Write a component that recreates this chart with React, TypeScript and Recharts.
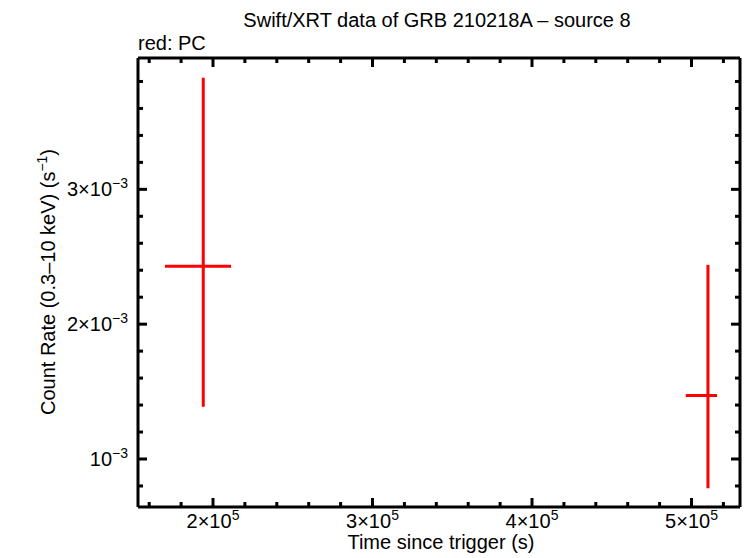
import React from "react";
import {
  ScatterChart,
  Scatter,
  XAxis,
  YAxis,
  ErrorBar,
  Customized,
} from "recharts";

// PC mode points (time since trigger, count rate) with asymmetric errors
const times = [193900, 510300];
const timeErrNeg = [24000, 13900];
const timeErrPos = [17400, 5700];
const rates = [0.00243, 0.001471];
const rateErrNeg = [0.001043, 0.000688];
const rateErrPos = [0.001397, 0.000969];

const xTicks = [
  160000, 180000, 200000, 220000, 240000, 260000, 280000, 300000, 320000,
  340000, 360000, 380000, 400000, 420000, 440000, 460000, 480000, 500000,
  520000,
];
const xMajor = [200000, 300000, 400000, 500000];
const yTicks = [
  0.0008, 0.001, 0.0012, 0.0014, 0.0016, 0.0018, 0.002, 0.0022, 0.0024,
  0.0026, 0.0028, 0.003, 0.0032, 0.0034, 0.0036, 0.0038,
];
const yMajor = [0.001, 0.002, 0.003];

const data = times.map((t, i) => ({
  t,
  rate: rates[i],
  xerr: [timeErrNeg[i], timeErrPos[i]],
  yerr: [rateErrNeg[i], rateErrPos[i]],
}));

const FONT = "'Liberation Sans', Arial, Helvetica, sans-serif";
const MAJOR = 9;
const MINOR = 5;

const isMajor = (v: number, list: number[]) =>
  list.some((m) => Math.abs(m - v) < 1e-9 * Math.max(1, Math.abs(m)));

function BottomTick(props: any) {
  const { x, y, payload } = props;
  const major = isMajor(payload.value, xMajor);
  return (
    <g>
      <line x1={x} y1={y} x2={x} y2={y - (major ? MAJOR : MINOR)} stroke="#000" strokeWidth={3} />
      {major && (
        <text x={x} y={y + 21} textAnchor="middle" fontFamily={FONT} fontSize={20} fill="#000">
          {Math.round(payload.value / 100000)}×10
          <tspan fontSize={14} dy={-8}>5</tspan>
        </text>
      )}
    </g>
  );
}

function TopTick(props: any) {
  const { x, y, payload } = props;
  const major = isMajor(payload.value, xMajor);
  return <line x1={x} y1={y} x2={x} y2={y + (major ? MAJOR : MINOR)} stroke="#000" strokeWidth={3} />;
}

function LeftTick(props: any) {
  const { x, y, payload } = props;
  const major = isMajor(payload.value, yMajor);
  const m = Math.round(payload.value * 1000);
  return (
    <g>
      <line x1={x} y1={y} x2={x + (major ? MAJOR : MINOR)} y2={y} stroke="#000" strokeWidth={3} />
      {major && (
        <text x={x - 10} y={y + 7} textAnchor="end" fontFamily={FONT} fontSize={20} fill="#000">
          {m !== 1 ? `${m}×10` : "10"}
          <tspan fontSize={14} dy={-8}>−3</tspan>
        </text>
      )}
    </g>
  );
}

function RightTick(props: any) {
  const { x, y, payload } = props;
  const major = isMajor(payload.value, yMajor);
  return <line x1={x} y1={y} x2={x - (major ? MAJOR : MINOR)} y2={y} stroke="#000" strokeWidth={3} />;
}

function Labels() {
  return (
    <g fontFamily={FONT} fill="#000">
      <text x={437} y={27} textAnchor="middle" fontSize={20}>
        Swift/XRT data of GRB 210218A – source 8
      </text>
      <text x={138} y={50} fontSize={20}>
        red: PC
      </text>
      <text x={441} y={549} textAnchor="middle" fontSize={20}>
        Time since trigger (s)
      </text>
      <text x={55} y={282} textAnchor="middle" fontSize={20} transform="rotate(-90, 55, 282)">
        Count Rate (0.3–10 keV) (s
        <tspan fontSize={14} dy={-8}>−1</tspan>
        <tspan dy={8}>)</tspan>
      </text>
    </g>
  );
}

const noShape = () => <g />;

const axisLine = { stroke: "#000", strokeWidth: 3 };

export default function App() {
  return (
    <div style={{ position: "absolute", left: 0, top: 0, background: "#fff" }}>
      <ScatterChart
        width={746}
        height={558}
        margin={{ top: 57, right: 5, bottom: 50, left: 137 }}
      >
        <XAxis
          xAxisId="b"
          type="number"
          dataKey="t"
          orientation="bottom"
          domain={[152980, 530400]}
          allowDataOverflow
          ticks={xTicks}
          interval={0}
          height={1}
          tickSize={0}
          tickMargin={0}
          tickLine={false}
          axisLine={axisLine}
          tick={<BottomTick />}
        />
        <XAxis
          xAxisId="t"
          type="number"
          dataKey="t"
          orientation="top"
          domain={[152980, 530400]}
          allowDataOverflow
          ticks={xTicks}
          interval={0}
          height={1}
          tickSize={0}
          tickMargin={0}
          tickLine={false}
          axisLine={axisLine}
          tick={<TopTick />}
        />
        <YAxis
          yAxisId="l"
          type="number"
          dataKey="rate"
          orientation="left"
          domain={[0.000644, 0.003974]}
          allowDataOverflow
          ticks={yTicks}
          interval={0}
          width={1}
          tickSize={0}
          tickMargin={0}
          tickLine={false}
          axisLine={axisLine}
          tick={<LeftTick />}
        />
        <YAxis
          yAxisId="r"
          type="number"
          dataKey="rate"
          orientation="right"
          domain={[0.000644, 0.003974]}
          allowDataOverflow
          ticks={yTicks}
          interval={0}
          width={1}
          tickSize={0}
          tickMargin={0}
          tickLine={false}
          axisLine={axisLine}
          tick={<RightTick />}
        />
        <Scatter
          data={data}
          xAxisId="b"
          yAxisId="l"
          shape={noShape}
          isAnimationActive={false}
        >
          <ErrorBar dataKey="xerr" direction="x" width={0} stroke="#ff0000" strokeWidth={3} isAnimationActive={false} />
          <ErrorBar dataKey="yerr" direction="y" width={0} stroke="#ff0000" strokeWidth={3} isAnimationActive={false} />
        </Scatter>
        <Customized component={Labels} />
      </ScatterChart>
    </div>
  );
}
